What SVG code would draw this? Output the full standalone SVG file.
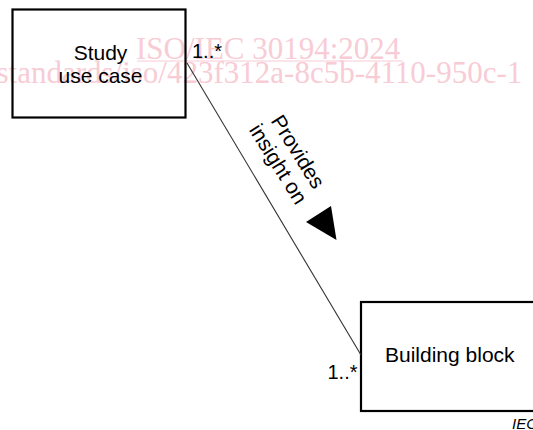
<svg xmlns="http://www.w3.org/2000/svg" width="533" height="430" viewBox="0 0 533 430">
<style>
.box{fill:none;stroke:#000;stroke-width:2.2}
.lbl{font-family:"Liberation Sans",Arial,sans-serif;font-size:21px;fill:#000}
.mult{font-family:"Liberation Sans",Arial,sans-serif;font-size:20px;fill:#000}
.wm{font-family:"Liberation Serif","Times New Roman",serif;font-size:31px;fill:#f8ccd5}
</style>
<rect width="533" height="430" fill="#fff"/>
<g id="watermark">
<text class="wm" x="136" y="58.5">ISO/IEC 30194:2024</text>
<line x1="137" y1="61" x2="403" y2="61" stroke="#f8ccd5" stroke-width="1.2"/>
<text class="wm" x="-3.5" y="83">standards/iso/423f312a-8c5b-4110-950c-1</text>
</g>
<g id="node-study">
<rect class="box" x="12.5" y="9.5" width="173" height="108"/>
<text class="lbl" x="100.5" y="59.5" text-anchor="middle">Study</text>
<text class="lbl" x="100.5" y="82.5" text-anchor="middle">use case</text>
</g>
<g id="node-building-block">
<rect class="box" x="361" y="302" width="200" height="109"/>
<text class="lbl" x="385" y="361.5">Building block</text>
</g>
<g id="connectors">
<line x1="187" y1="63" x2="361" y2="355" stroke="#333" stroke-width="1.1"/>
<text class="mult" x="192" y="58">1..*</text>
<text class="mult" x="357.5" y="379" text-anchor="end">1..*</text>
<g transform="translate(272.2,167.8) rotate(58)">
<text class="lbl" x="0" y="-23.3" text-anchor="middle">Provides</text>
<text class="lbl" x="0" y="0" text-anchor="middle">insight on</text>
</g>
<polygon points="306,222 331,206 336.5,240" fill="#000"/>
</g>
<text x="512" y="429" font-family="'Liberation Sans',Arial,sans-serif" font-size="15" font-style="italic" fill="#000">IEC</text>
</svg>
